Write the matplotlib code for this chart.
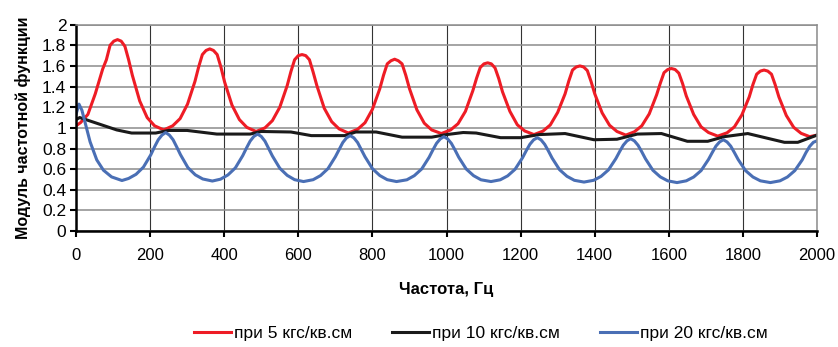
import matplotlib
matplotlib.use("Agg")
import matplotlib.pyplot as plt

# Данные (частота, Гц / модуль частотной функции)
f_5 = [0, 12, 32, 52, 72, 82, 92, 102, 112, 122, 132, 142, 152, 172, 192, 212, 237,
       261, 281, 301, 321, 331, 341, 351, 361, 371, 381, 391, 401, 421, 441, 461, 486,
       510, 530, 550, 570, 580, 590, 600, 610, 620, 630, 640, 650, 670, 690, 710, 735,
       760, 780, 800, 820, 830, 840, 850, 860, 870, 880, 890, 900, 920, 940, 960, 986,
       1011, 1031, 1051, 1071, 1081, 1091, 1101, 1111, 1121, 1131, 1141, 1151, 1171, 1191, 1211, 1236,
       1260, 1280, 1300, 1320, 1330, 1340, 1350, 1360, 1370, 1380, 1390, 1400, 1420, 1440, 1460, 1484,
       1507, 1527, 1547, 1567, 1577, 1587, 1597, 1607, 1617, 1627, 1637, 1647, 1667, 1687, 1707, 1732,
       1757, 1777, 1797, 1817, 1827, 1837, 1847, 1857, 1867, 1877, 1887, 1897, 1917, 1937, 1957, 1980, 2000]
m_5 = [1.02, 1.05, 1.13, 1.33, 1.57, 1.66, 1.80, 1.84, 1.855, 1.84, 1.79, 1.66, 1.51, 1.26, 1.10, 1.02, 0.98,
       1.02, 1.09, 1.23, 1.45, 1.59, 1.71, 1.75, 1.765, 1.75, 1.71, 1.59, 1.445, 1.22, 1.08, 1.005, 0.965,
       1.00, 1.07, 1.20, 1.41, 1.545, 1.66, 1.70, 1.71, 1.70, 1.66, 1.54, 1.41, 1.19, 1.06, 0.99, 0.95,
       0.986, 1.05, 1.18, 1.38, 1.51, 1.62, 1.65, 1.665, 1.65, 1.62, 1.51, 1.38, 1.175, 1.045, 0.98, 0.945,
       0.98, 1.04, 1.16, 1.36, 1.48, 1.585, 1.62, 1.63, 1.62, 1.58, 1.477, 1.35, 1.16, 1.03, 0.97, 0.935,
       0.968, 1.028, 1.15, 1.33, 1.454, 1.56, 1.59, 1.60, 1.59, 1.555, 1.45, 1.33, 1.145, 1.025, 0.965, 0.93,
       0.962, 1.02, 1.135, 1.32, 1.433, 1.535, 1.565, 1.575, 1.565, 1.53, 1.43, 1.31, 1.13, 1.01, 0.955, 0.92,
       0.952, 1.01, 1.125, 1.30, 1.42, 1.52, 1.55, 1.56, 1.55, 1.52, 1.418, 1.30, 1.12, 1.005, 0.947, 0.915, 0.93]

f_10 = [0, 10, 60, 110, 150, 215, 250, 300, 380, 470, 500, 580, 635, 725, 755, 810,
        880, 960, 1000, 1045, 1080, 1146, 1200, 1250, 1320, 1398, 1460, 1515, 1580,
        1650, 1705, 1750, 1813, 1912, 1948, 2000]
m_10 = [1.08, 1.10, 1.04, 0.98, 0.95, 0.95, 0.975, 0.975, 0.94, 0.94, 0.965, 0.96, 0.925, 0.925, 0.96, 0.96,
        0.91, 0.91, 0.935, 0.955, 0.95, 0.905, 0.905, 0.935, 0.945, 0.885, 0.89, 0.94, 0.945,
        0.87, 0.87, 0.915, 0.945, 0.86, 0.86, 0.93]

f_20 = [0, 8, 16, 24, 38, 56, 74, 96, 124,
        142, 162, 182, 202, 212, 222, 232, 242, 252, 262, 272, 282, 302, 322, 342, 368,
        390, 410, 430, 450, 460, 470, 480, 490, 500, 510, 520, 530, 550, 570, 590, 614,
        640, 660, 680, 700, 710, 720, 730, 740, 750, 760, 770, 780, 800, 820, 840, 865,
        893, 913, 933, 953, 963, 973, 983, 993, 1003, 1013, 1023, 1033, 1053, 1073, 1093, 1120,
        1145, 1165, 1185, 1205, 1215, 1225, 1235, 1245, 1255, 1265, 1275, 1285, 1305, 1325, 1345, 1371,
        1397, 1417, 1437, 1457, 1467, 1477, 1487, 1497, 1507, 1517, 1527, 1537, 1557, 1577, 1597, 1622,
        1647, 1667, 1687, 1707, 1717, 1727, 1737, 1747, 1757, 1767, 1777, 1787, 1807, 1827, 1847, 1874,
        1900, 1920, 1940, 1960, 1970, 1980, 1990, 2000]
m_20 = [1.13, 1.23, 1.17, 1.06, 0.865, 0.69, 0.59, 0.525, 0.49,
        0.51, 0.55, 0.62, 0.74, 0.816, 0.885, 0.93, 0.955, 0.93, 0.885, 0.814, 0.74, 0.615, 0.545, 0.505, 0.485,
        0.503, 0.544, 0.612, 0.731, 0.804, 0.872, 0.917, 0.94, 0.917, 0.871, 0.80, 0.728, 0.609, 0.54, 0.498, 0.48,
        0.498, 0.538, 0.605, 0.72, 0.79, 0.858, 0.903, 0.925, 0.903, 0.858, 0.79, 0.72, 0.605, 0.538, 0.498, 0.48,
        0.497, 0.537, 0.602, 0.715, 0.785, 0.85, 0.893, 0.915, 0.893, 0.85, 0.785, 0.715, 0.602, 0.537, 0.497, 0.48,
        0.497, 0.535, 0.599, 0.71, 0.778, 0.841, 0.884, 0.905, 0.884, 0.84, 0.776, 0.707, 0.595, 0.531, 0.492, 0.475,
        0.492, 0.53, 0.593, 0.702, 0.769, 0.832, 0.874, 0.895, 0.874, 0.831, 0.768, 0.70, 0.589, 0.525, 0.487, 0.47,
        0.487, 0.524, 0.586, 0.694, 0.76, 0.823, 0.864, 0.885, 0.864, 0.823, 0.76, 0.694, 0.586, 0.524, 0.487, 0.47,
        0.487, 0.524, 0.586, 0.69, 0.76, 0.82, 0.86, 0.875]

labels = ["при 5 кгс/кв.см", "при 10 кгс/кв.см", "при 20 кгс/кв.см"]
x_ticks = list(range(0, 2001, 200))
y_ticks = [0, 0.2, 0.4, 0.6, 0.8, 1, 1.2, 1.4, 1.6, 1.8, 2]

plt.rcParams['font.family'] = ["Liberation Sans", "DejaVu Sans"]

fig = plt.figure(figsize=(8.38, 3.47), dpi=100)
ax = fig.add_axes([0.0907, 0.334, 0.8843, 0.595])

ax.plot(f_5, m_5, color="#ee1c25", lw=2.2, label=labels[0], solid_joinstyle="round")
ax.plot(f_10, m_10, color="#1a1a1a", lw=2.2, label=labels[1], solid_joinstyle="round")
ax.plot(f_20, m_20, color="#4a6fb5", lw=2.2, label=labels[2], solid_joinstyle="round")

ax.set_xlim(0, 2000)
ax.set_ylim(0, 2)
ax.set_xticks(x_ticks)
ax.set_yticks(y_ticks)
ax.set_yticklabels([("%g" % v) for v in y_ticks], fontsize=12.5)
ax.set_xticklabels([str(v) for v in x_ticks], fontsize=12)

ax.grid(axis="y", color="#8c8c8c", lw=1.1)
ax.grid(axis="x", color="#333333", lw=0.8)
ax.set_axisbelow(True)
for s in ["top", "right"]:
    ax.spines[s].set_color("#8c8c8c")
    ax.spines[s].set_linewidth(1.1)
for s in ["left", "bottom"]:
    ax.spines[s].set_color("black")
    ax.spines[s].set_linewidth(1.8)
ax.tick_params(direction="out", length=4, width=1.5, color="black", pad=3)
ax.tick_params(axis="x", pad=8)

ax.set_xlabel("Частота, Гц", fontweight="bold", fontsize=12, labelpad=14)
ax.set_ylabel("Модуль частотной функции", fontweight="bold", fontsize=11.5, labelpad=8)

fig.legend(loc="lower center", bbox_to_anchor=(0.574, -0.028), ncol=3, frameon=False,
           prop={"size": 12.5}, handlelength=2.1, columnspacing=2.3, handletextpad=0.2)

fig.savefig("out.png", dpi=100)
